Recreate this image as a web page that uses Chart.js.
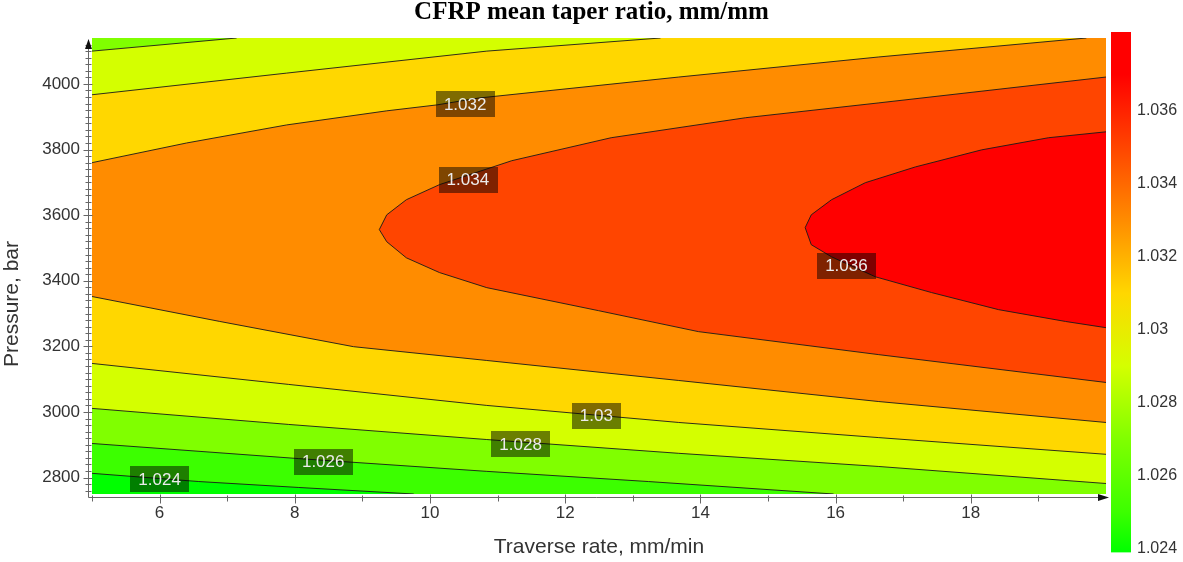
<!DOCTYPE html>
<html>
<head>
<meta charset="utf-8">
<script src="https://cdn.jsdelivr.net/npm/chart.js@4/dist/chart.umd.min.js"></script>
<style>
  html, body { margin: 0; padding: 0; background: #fff; }
  #wrap { position: relative; width: 1183px; height: 562px; overflow: hidden; }
  #main { position: absolute; left: 0; top: 0; }
  #bar { position: absolute; left: 1100px; top: 0; }
</style>
</head>
<body>
<div id="wrap">
  <canvas id="main" width="1183" height="562"></canvas>
  <canvas id="bar" width="83" height="568"></canvas>
</div>
<script>
// Design space: traverse rate (mm/min) and pressure (bar)
const xRange = [5, 20];
const yRange = [2750, 4140];
const xTicks = [6, 8, 10, 12, 14, 16, 18];
const yTicks = [2800, 3000, 3200, 3400, 3600, 3800, 4000];

// Contour levels of the mean taper ratio and the fill colour of each band
const levels = [1.024, 1.026, 1.028, 1.030, 1.032, 1.034, 1.036];
const bandColors = ['#00ff00', '#3cff00', '#80ff00', '#d4ff00', '#ffd700', '#ff8c00', '#ff4500', '#ff0000'];
const colorbarRange = [1.0239, 1.03816];

// Iso-lines, points as [traverse rate, pressure]
const iso1024 = [[5, 2813], [6.58, 2788], [8.05, 2770], [9.76, 2750]];
const iso1026 = [[5, 2904], [8.05, 2858], [10.84, 2819], [13.23, 2788], [15.97, 2750]];
const iso1028lo = [[5, 3011], [7.91, 2962], [10.84, 2916], [13.68, 2874], [16.63, 2834], [20, 2782]];
const iso1028hi = [[5, 4100], [7.14, 4140]];
const iso1030lo = [[5, 3148], [7.91, 3084], [10.84, 3020], [13.68, 2968], [16.63, 2922], [20, 2871]];
const iso1030hi = [[5, 3967], [7.88, 4033], [10.84, 4100], [13.41, 4140]];
const iso1032lo = [[5, 3352], [6.89, 3276], [8.87, 3199], [10.84, 3157], [13.68, 3096], [16.63, 3032], [20, 2968]];
const iso1032hi = [[5, 3760], [6.40, 3820], [7.88, 3875], [9.36, 3918], [10.10, 3936], [10.72, 3957], [13.68, 4021], [16.63, 4082], [19.71, 4140]];
const iso1034 = [[20, 3090], [16.63, 3175], [13.97, 3245], [12.49, 3309], [10.84, 3379], [10.14, 3425], [9.65, 3470],
                 [9.36, 3519], [9.25, 3556], [9.36, 3601], [9.65, 3647], [10.14, 3693], [11.21, 3766], [12.68, 3836],
                 [14.67, 3897], [16.63, 3942], [20, 4021]];
const iso1036 = [[20, 3257], [19.40, 3276], [18.41, 3312], [17.42, 3364], [16.59, 3412], [15.94, 3473], [15.64, 3510],
                 [15.55, 3562], [15.64, 3601], [15.94, 3647], [16.44, 3699], [17.18, 3747], [18.16, 3799], [19.15, 3836], [20, 3854]];

// In-line level labels
const labelValues = [1.024, 1.026, 1.028, 1.030, 1.032, 1.034, 1.036];
const labelX = [6.0, 8.42, 11.34, 12.46, 10.52, 10.56, 16.16];
const labelY = [2795, 2849, 2901, 2989, 3939, 3708, 3446];

const isoLines = [iso1024, iso1026, iso1028lo, iso1028hi, iso1030lo, iso1030hi, iso1032lo, iso1032hi, iso1034, iso1036];

// Regions where the ratio is above each level, closed along the plot edges
const [x0, x1] = xRange, [y0, y1] = yRange;
const regions = [
  { color: bandColors[1], pts: [...iso1024, [x1, y0], [x1, y1], [x0, y1]] },
  { color: bandColors[2], pts: [...iso1026, [x1, y0], [x1, y1], [x0, y1]] },
  { color: bandColors[3], pts: [...iso1028lo, [x1, y1], ...[...iso1028hi].reverse()] },
  { color: bandColors[4], pts: [...iso1030lo, [x1, y1], ...[...iso1030hi].reverse()] },
  { color: bandColors[5], pts: [...iso1032lo, [x1, y1], ...[...iso1032hi].reverse()] },
  { color: bandColors[6], pts: iso1034 },
  { color: bandColors[7], pts: iso1036 }
];

const sans = '"Liberation Sans", Arial, sans-serif';
const tickFont = { family: sans, size: 17 };
const fmt = v => String(+Number(v).toFixed(3));

// Filled bands painted from the lowest level upwards
const bandFill = {
  id: 'bandFill',
  beforeDatasetsDraw(chart) {
    const { ctx, chartArea: a, scales: { x, y } } = chart;
    ctx.save();
    ctx.beginPath();
    ctx.rect(a.left, a.top, a.right - a.left, a.bottom - a.top);
    ctx.clip();
    ctx.fillStyle = bandColors[0];
    ctx.fillRect(a.left, a.top, a.right - a.left, a.bottom - a.top);
    for (const r of regions) {
      ctx.beginPath();
      r.pts.forEach(([vx, vy], i) => {
        const px = x.getPixelForValue(vx), py = y.getPixelForValue(vy);
        if (i === 0) ctx.moveTo(px, py); else ctx.lineTo(px, py);
      });
      ctx.closePath();
      ctx.fillStyle = r.color;
      ctx.fill();
    }
    ctx.restore();
  }
};

// Level labels in dark translucent boxes
const levelLabels = {
  id: 'levelLabels',
  afterDatasetsDraw(chart) {
    const { ctx, scales: { x, y } } = chart;
    ctx.save();
    ctx.font = '17px ' + sans;
    ctx.textAlign = 'center';
    ctx.textBaseline = 'middle';
    labelValues.forEach((v, i) => {
      const t = fmt(v);
      const px = x.getPixelForValue(labelX[i]), py = y.getPixelForValue(labelY[i]);
      const w = ctx.measureText(t).width + 16, h = 26;
      ctx.fillStyle = 'rgba(0,0,0,0.5)';
      ctx.fillRect(Math.round(px - w / 2), Math.round(py - h / 2), Math.round(w), h);
      ctx.fillStyle = '#ececec';
      ctx.fillText(t, px, py + 1);
    });
    ctx.restore();
  }
};

// Axis lines with arrows, major and minor tick marks, and the pressure axis title
const axisDecor = {
  id: 'axisDecor',
  afterDraw(chart) {
    const { ctx, chartArea: a, scales: { x, y } } = chart;
    const ax = a.left - 3.5, ay = a.bottom + 3.5;
    ctx.save();
    ctx.strokeStyle = '#666';
    ctx.lineWidth = 1;
    ctx.beginPath();
    ctx.moveTo(ax, ay); ctx.lineTo(ax, a.top + 4);
    ctx.moveTo(ax, ay); ctx.lineTo(a.right - 2, ay);
    ctx.stroke();
    ctx.beginPath();
    for (let v = 2760; v <= 4130; v += 20) {
      const py = Math.round(y.getPixelForValue(v)) + 0.5;
      const major = yTicks.includes(v);
      ctx.moveTo(ax - (major ? 5 : 3), py); ctx.lineTo(ax + (major ? 4 : 3), py);
    }
    for (let v = 5; v < 20; v += 1) {
      const px = Math.round(x.getPixelForValue(v)) + 0.5;
      const major = xTicks.includes(v);
      ctx.moveTo(px, ay - (major ? 3 : 2)); ctx.lineTo(px, ay + (major ? 6 : 4));
    }
    ctx.stroke();
    ctx.fillStyle = '#111';
    ctx.beginPath();
    ctx.moveTo(ax, a.top + 1); ctx.lineTo(ax - 3.5, a.top + 11); ctx.lineTo(ax + 3.5, a.top + 11); ctx.closePath();
    ctx.fill();
    ctx.beginPath();
    ctx.moveTo(a.right + 3, ay); ctx.lineTo(a.right - 8, ay - 3.5); ctx.lineTo(a.right - 8, ay + 3.5); ctx.closePath();
    ctx.fill();

    ctx.translate(12.5, a.bottom - 190);
    ctx.rotate(-Math.PI / 2);
    ctx.font = '21px ' + sans;
    ctx.fillStyle = '#333';
    ctx.textAlign = 'center';
    ctx.textBaseline = 'middle';
    ctx.fillText('Pressure, bar', 0, 0);
    ctx.restore();
  }
};

new Chart(document.getElementById('main'), {
  type: 'scatter',
  data: {
    datasets: isoLines.map(line => ({
      data: line.map(([vx, vy]) => ({ x: vx, y: vy })),
      showLine: true,
      fill: false,
      tension: 0,
      borderColor: 'rgba(25,25,25,0.9)',
      borderWidth: 1,
      pointRadius: 0
    }))
  },
  options: {
    responsive: false,
    animation: false,
    events: [],
    layout: { padding: 0 },
    plugins: {
      legend: { display: false },
      tooltip: { enabled: false },
      title: {
        display: true,
        text: 'CFRP mean taper ratio, mm/mm',
        color: '#000',
        font: { family: '"Liberation Serif", "Times New Roman", serif', size: 25, weight: 'bold', lineHeight: 1 },
        padding: { top: 0, bottom: 13 }
      }
    },
    scales: {
      x: {
        type: 'linear', min: xRange[0], max: xRange[1],
        afterBuildTicks: s => { s.ticks = xTicks.map(v => ({ value: v })); },
        afterFit: s => { s.height = 68; },
        grid: { display: false, drawTicks: false }, border: { display: false },
        ticks: { padding: 9, font: tickFont, color: '#333', maxRotation: 0, autoSkip: false, callback: v => String(v) },
        title: { display: true, text: 'Traverse rate, mm/min', color: '#333', font: { family: sans, size: 21 }, padding: { top: 0, bottom: 2 } }
      },
      y: {
        type: 'linear', min: yRange[0], max: yRange[1],
        afterBuildTicks: s => { s.ticks = yTicks.map(v => ({ value: v })); },
        afterFit: s => { s.width = 92; },
        grid: { display: false, drawTicks: false }, border: { display: false },
        ticks: { padding: 12, font: tickFont, color: '#333', autoSkip: false, callback: v => String(v) },
        title: { display: false }
      },
      yRight: {
        type: 'linear', position: 'right', display: true,
        afterFit: s => { s.width = 77; },
        grid: { display: false, drawTicks: false }, border: { display: false },
        ticks: { display: false }
      }
    }
  },
  plugins: [bandFill, levelLabels, axisDecor]
});

// Colour scale: gradient through the band colours at band mid-levels
const colorStops = bandColors.map((c, i) => [i === 0 ? colorbarRange[0] : Math.min(levels[i - 1] + 0.001, colorbarRange[1]), c]);
colorStops.push([colorbarRange[1], bandColors[bandColors.length - 1]]);

new Chart(document.getElementById('bar'), {
  type: 'bar',
  data: {
    labels: [''],
    datasets: [{
      data: [[colorbarRange[0], colorbarRange[1]]],
      backgroundColor: (c) => {
        const ch = c.chart;
        if (!ch.chartArea) return bandColors[0];
        const ys = ch.scales.y;
        const g = ch.ctx.createLinearGradient(0, ys.getPixelForValue(colorbarRange[0]), 0, ys.getPixelForValue(colorbarRange[1]));
        colorStops.forEach(([v, col]) => g.addColorStop((v - colorbarRange[0]) / (colorbarRange[1] - colorbarRange[0]), col));
        return g;
      },
      borderWidth: 0,
      barPercentage: 1,
      categoryPercentage: 1
    }]
  },
  options: {
    responsive: false,
    animation: false,
    events: [],
    layout: { padding: { left: 11, top: 32, bottom: 9, right: 0 } },
    plugins: { legend: { display: false }, tooltip: { enabled: false } },
    scales: {
      x: { display: false },
      y: {
        position: 'right', min: colorbarRange[0], max: colorbarRange[1],
        afterBuildTicks: s => { s.ticks = levels.map(v => ({ value: v })); },
        afterFit: s => { s.width = 52; },
        grid: { display: false, drawTicks: false }, border: { display: false },
        ticks: { padding: 6, font: { family: sans, size: 16 }, color: '#333', callback: v => fmt(v) }
      }
    }
  }
});
</script>
</body>
</html>
